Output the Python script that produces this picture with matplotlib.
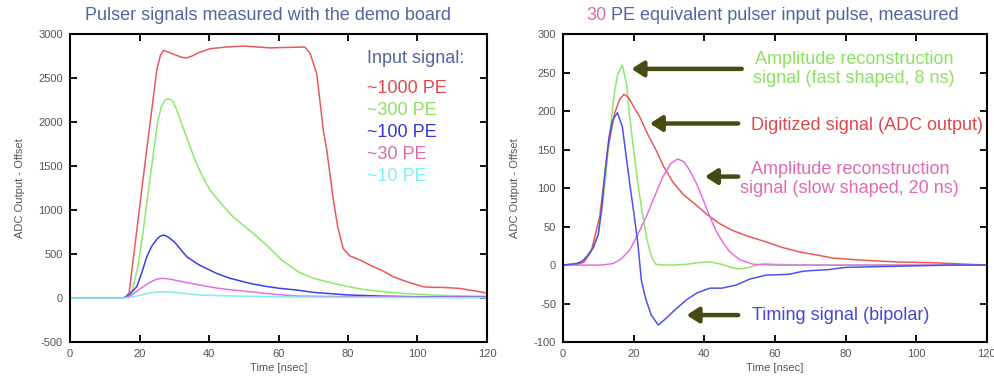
import matplotlib
matplotlib.use("Agg")
import matplotlib.pyplot as plt
import numpy as np

plt.rcParams["font.family"] = ["Liberation Sans", "DejaVu Sans"]
plt.rcParams["axes.unicode_minus"] = False

# ---- left panel: pulser signals ----
t_1000 = [0, 10, 15, 16, 17, 19, 21, 23, 25, 26, 26.9, 28, 30, 32, 33.4, 35, 37, 40.3,
          45, 49.9, 54, 57.6, 62, 67.6, 69.1, 71, 72.9, 73.9, 75.8, 77, 78.6, 80.5, 83.5, 86.3,
          90, 93, 97, 101.7, 104, 107.4, 112, 116, 119.4, 120]
v_1000 = [0, 0, 0, 10, 60, 700, 1350, 1980, 2600, 2760, 2817, 2800, 2770, 2740, 2730, 2750,
          2790, 2836, 2855, 2866, 2855, 2845, 2850, 2855, 2780, 2553, 1908, 1681, 1113, 820, 565,
          480, 432, 375, 310, 242, 185, 128, 122, 121, 110, 85, 60, 58]
t_300 = [0, 10, 15, 16.5, 18, 19.5, 21, 22.5, 24, 25.2, 26.3, 27.3, 28.3, 29.5, 30.5, 32.1, 34,
         36, 38, 40.3, 44, 47, 52, 56.6, 61, 66, 70, 75.8, 80, 85.4, 95, 104.6, 112, 120]
v_300 = [0, 0, 0, 10, 100, 350, 750, 1200, 1650, 2000, 2180, 2250, 2268, 2240, 2160, 1985, 1780,
         1568, 1390, 1227, 1050, 920, 760, 600, 430, 290, 225, 167, 130, 91, 55, 34, 25, 20]
t_100 = [0, 10, 15, 16.3, 17.5, 19.2, 20.5, 22.1, 23.5, 25, 26, 26.9, 28, 30, 33.6, 37, 42.2, 46,
         51.8, 56, 60, 65.2, 70, 80, 90, 100, 110, 120]
v_100 = [0, 0, 0, 15, 55, 130, 270, 470, 590, 670, 705, 716, 700, 640, 470, 380, 280, 225, 167,
         135, 112, 91, 65, 35, 22, 15, 12, 10]
t_30 = [0, 10, 15, 16.3, 18, 19.5, 21.1, 23, 25, 26.4, 28, 30, 33, 37.4, 42, 46, 51.8, 58, 65.2,
        75, 85, 100, 120]
v_30 = [0, 0, 0, 8, 40, 85, 130, 180, 215, 224, 220, 205, 180, 148, 115, 95, 72, 45, 23, 18, 14,
        10, 6]
t_10 = [0, 10, 15, 17, 19, 21, 23, 25.9, 28, 31, 37.4, 45, 55, 65, 80, 100, 120]
v_10 = [0, 0, 0, 5, 20, 40, 58, 72, 70, 60, 34, 25, 18, 12, 8, 5, 3]

left_labels = ["~1000 PE", "~300 PE", "~100 PE", "~30 PE", "~10 PE"]
left_line_colors = ["#e8595c", "#8ee86a", "#3b40e6", "#e470e0", "#7ff0ee"]
left_text_colors = ["#e0484c", "#8de060", "#3535d6", "#e06aa6", "#7ff0ee"]

# ---- right panel: 30 PE pulse ----
t_fast = [0, 3.9, 5.5, 6.7, 8.5, 10, 11, 11.9, 12.8, 13.8, 14.6, 15.5, 16.8, 18, 18.9, 20, 21.2,
          22.4, 23.6, 24.6, 25.5, 26.3, 28, 31, 35, 38, 41.6, 45, 47.5, 49.6, 52, 55, 57, 60, 70,
          80, 90, 100, 110, 120]
v_fast = [0, 2, 5, 11, 22, 40, 72, 106, 150, 193, 225, 248, 260, 235, 193, 150, 106, 70, 37, 18,
          6.5, 1, 0, 0, 1, 3, 4, 1, -3, -5, -4, 0, 2, 1, 0, 0, 0, 0, 0, 0]
t_adc = [0, 4, 6, 8, 10.4, 12.7, 14.6, 16, 17.3, 18.5, 20, 21.7, 24, 26.4, 28.5, 31.1, 34, 37.7,
         40.7, 44.3, 48, 52, 57.6, 62, 67, 72, 76.5, 86, 95, 105, 110, 115, 120]
v_adc = [0, 1, 4, 18, 63, 150, 197, 215, 222, 218, 206, 193, 170, 149, 128, 108, 92, 78, 66, 54,
         45, 38, 30, 23, 17, 13, 9, 6, 4, 3, 2, 1, 0]
t_slow = [0, 8, 11, 14.2, 16.5, 18.9, 21, 23.6, 26, 28.3, 30.5, 32.5, 34.3, 35.9, 37.8, 39.6,
          41.5, 43.4, 45.5, 47.3, 50, 53.9, 60, 80, 100, 120]
v_slow = [0, 0, 0, 2, 8, 19.5, 38, 63, 90, 115, 132, 138, 134, 123, 106, 86, 64, 44, 28, 17, 7,
          1, 0, 0, 0, 0]
t_timing = [0, 3.9, 5.5, 6.7, 8.5, 10, 11, 12, 13, 14, 15.4, 16.8, 18.9, 20, 21.2, 22.2, 23.5,
            25, 27, 29, 32, 35, 38, 41.6, 45, 49, 53, 57.6, 64, 68, 71, 75, 80, 90, 100, 110, 120]
v_timing = [0, 2, 5, 11, 22, 40, 75, 125, 165, 188, 198, 180, 106, 70, 28, -20, -45, -65, -78,
            -70, -57, -45, -36, -30, -30, -26, -18, -13, -12, -8, -7, -6, -3, -2, -1, 0, 0]

right_labels = ["Amplitude reconstruction\nsignal (fast shaped, 8 ns)",
                "Digitized signal (ADC output)",
                "Amplitude reconstruction\nsignal (slow shaped, 20 ns)",
                "Timing signal (bipolar)"]
right_line_colors = ["#8ee86a", "#e8595c", "#e470e0", "#4b52ec"]
right_text_colors = ["#8de060", "#e0484c", "#e36ab0", "#4545dc"]
# arrow heads (x, y), arrow tails x, label anchors
arrow_heads = [(19.4, 255), (24.6, 184), (40.2, 115), (35, -65)]
arrow_tails = [50.6, 49.6, 49.6, 49.6]
label_pos = [(82.4, 255), (53.1, 181), (81.2, 112), (53.5, -65)]

title_col = "#5265a0"
tick_col = "#555555"
arrow_col = "#474a12"


def style(ax, ymin, ymax, ystep):
    ax.set_xlim(0, 120)
    ax.set_ylim(ymin, ymax)
    ax.set_xticks(range(0, 121, 20))
    ax.set_yticks(np.arange(ymin, ymax + 1, ystep))
    ax.tick_params(direction="in", top=True, right=True, length=5, width=1.3,
                   labelsize=8, labelcolor=tick_col, pad=5)
    for s in ax.spines.values():
        s.set_linewidth(1.5)
    ax.set_xlabel("Time [nsec]", fontsize=8, color=tick_col, labelpad=3)
    ax.set_ylabel("ADC Output - Offset", fontsize=8, color=tick_col, labelpad=10)


fig = plt.figure(figsize=(9.95, 3.79), dpi=100)
ax1 = fig.add_axes([0.0704, 0.0976, 0.419, 0.812])
ax2 = fig.add_axes([0.5658, 0.0976, 0.426, 0.812])

for (t, v), c in zip([(t_1000, v_1000), (t_300, v_300), (t_100, v_100), (t_30, v_30),
                      (t_10, v_10)], left_line_colors):
    ax1.plot(t, v, color=c, lw=1.1)
style(ax1, -500, 3000, 500)
fig.text(0.269, 0.96, "Pulser signals measured with the demo board", fontsize=13,
         color=title_col, ha="center", va="center")
ax1.text(85.4, 2723, "Input signal:", fontsize=13, color=title_col, va="center")
for i, (lab, c) in enumerate(zip(left_labels, left_text_colors)):
    ax1.text(85.4, 2382 - i * 251, lab, fontsize=13, color=c, va="center")

for (t, v), c in zip([(t_fast, v_fast), (t_adc, v_adc), (t_slow, v_slow), (t_timing, v_timing)],
                     right_line_colors):
    ax2.plot(t, v, color=c, lw=1.1)
style(ax2, -100, 300, 50)
t30 = fig.text(0.589, 0.96, "30", fontsize=13, color="#e06aa6", ha="left", va="center")
ax2.annotate(" PE equivalent pulser input pulse, measured", xy=(1, 0), xycoords=t30,
             fontsize=13, color=title_col, ha="left", va="bottom")

for lab, c, (hx, hy), tx, (lx, ly) in zip(right_labels, right_text_colors, arrow_heads,
                                          arrow_tails, label_pos):
    ax2.annotate("", xy=(hx, hy), xytext=(tx, hy),
                 arrowprops=dict(arrowstyle="-|>,head_length=0.7,head_width=0.45",
                                 color=arrow_col, lw=3.2, shrinkA=0, shrinkB=0))
    if "\n" in lab:
        ax2.text(lx, ly, lab, fontsize=13, color=c, ha="center", va="center",
                 multialignment="center", linespacing=1.2)
    else:
        ax2.text(lx, ly, lab, fontsize=13, color=c, ha="left", va="center")

fig.savefig("out.png", dpi=100)
print("saved out.png")
